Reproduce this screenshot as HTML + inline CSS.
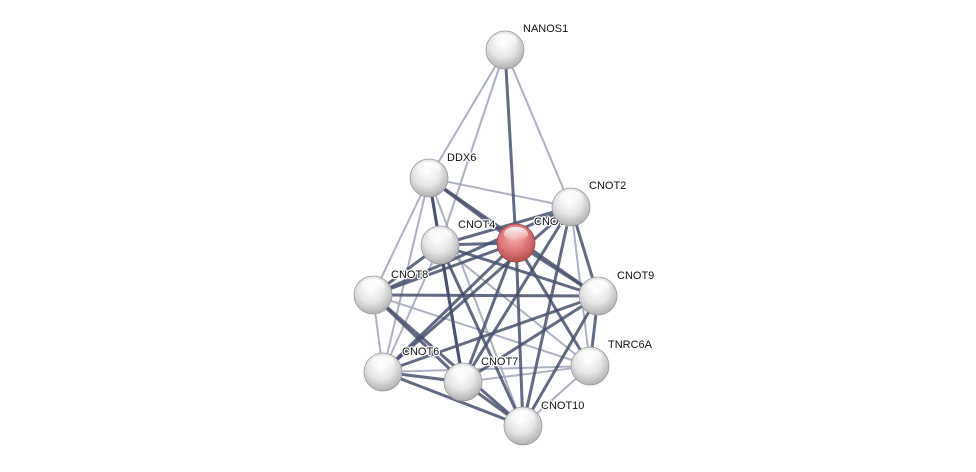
<!DOCTYPE html>
<html><head><meta charset="utf-8"><style>
html,body{margin:0;padding:0;background:#fff;}
svg{display:block;}
text{font-family:"Liberation Sans",sans-serif;font-size:11px;fill:#111;stroke:#fff;stroke-width:2.5px;paint-order:stroke;stroke-linejoin:round;}
</style></head><body>
<svg width="976" height="472" viewBox="0 0 976 472" xmlns="http://www.w3.org/2000/svg">
<defs>
<radialGradient id="g" cx="0.45" cy="0.35" r="0.7">
<stop offset="0" stop-color="#ffffff"/><stop offset="0.5" stop-color="#e6e6e6"/><stop offset="1" stop-color="#a8a8a8"/>
</radialGradient>
<radialGradient id="r" cx="0.45" cy="0.35" r="0.7">
<stop offset="0" stop-color="#f4b0b0"/><stop offset="0.5" stop-color="#e07a7a"/><stop offset="1" stop-color="#b04848"/>
</radialGradient>
<linearGradient id="hl" x1="0" y1="0" x2="0" y2="1">
<stop offset="0" stop-color="#fff" stop-opacity="0.95"/><stop offset="1" stop-color="#fff" stop-opacity="0"/>
</linearGradient>
<g id="node"><circle r="19" fill="url(#g)" stroke="#9a9a9a" stroke-width="0.8"/><ellipse cx="0" cy="-9" rx="12" ry="7" fill="url(#hl)"/></g>
<g id="rnode"><circle r="19" fill="url(#r)" stroke="#a04040" stroke-width="0.8"/><ellipse cx="0" cy="-9" rx="12" ry="7" fill="url(#hl)"/></g>
</defs>
<g stroke="#a3a8bb" stroke-width="2" stroke-opacity="0.9">
<line x1="505" y1="50" x2="429" y2="178"/>
<line x1="505" y1="50" x2="440" y2="245"/>
<line x1="505" y1="50" x2="571" y2="207"/>
<line x1="429" y1="178" x2="571" y2="207"/>
<line x1="429" y1="178" x2="373" y2="295"/>
<line x1="429" y1="178" x2="383" y2="372"/>
<line x1="373" y1="295" x2="383" y2="372"/>
<line x1="440" y1="245" x2="383" y2="372"/>
<line x1="373" y1="295" x2="590" y2="366"/>
<line x1="383" y1="372" x2="590" y2="366"/>
<line x1="463" y1="382" x2="590" y2="366"/>
<line x1="590" y1="366" x2="523" y2="426"/>
<line x1="571" y1="207" x2="590" y2="366"/>
<line x1="429" y1="178" x2="523" y2="426"/>
<line x1="440" y1="245" x2="590" y2="366"/>
</g>
<g stroke="#47506e" stroke-width="3" stroke-opacity="0.85">
<line x1="505" y1="50" x2="516" y2="243"/>
<line x1="429" y1="178" x2="440" y2="245"/>
<line x1="429" y1="178" x2="516" y2="243"/>
<line x1="429" y1="178" x2="598" y2="296"/>
<line x1="429" y1="178" x2="463" y2="382"/>
<line x1="440" y1="245" x2="516" y2="243"/>
<line x1="440" y1="245" x2="373" y2="295"/>
<line x1="440" y1="245" x2="598" y2="296"/>
<line x1="440" y1="245" x2="463" y2="382"/>
<line x1="440" y1="245" x2="523" y2="426"/>
<line x1="516" y1="243" x2="373" y2="295"/>
<line x1="516" y1="243" x2="598" y2="296"/>
<line x1="516" y1="243" x2="463" y2="382"/>
<line x1="516" y1="243" x2="383" y2="372"/>
<line x1="516" y1="243" x2="523" y2="426"/>
<line x1="516" y1="243" x2="590" y2="366"/>
<line x1="571" y1="207" x2="373" y2="295"/>
<line x1="571" y1="207" x2="440" y2="245"/>
<line x1="571" y1="207" x2="463" y2="382"/>
<line x1="571" y1="207" x2="523" y2="426"/>
<line x1="571" y1="207" x2="598" y2="296"/>
<line x1="571" y1="207" x2="383" y2="372"/>
<line x1="373" y1="295" x2="598" y2="296"/>
<line x1="373" y1="295" x2="463" y2="382"/>
<line x1="373" y1="295" x2="523" y2="426"/>
<line x1="383" y1="372" x2="463" y2="382"/>
<line x1="383" y1="372" x2="523" y2="426"/>
<line x1="463" y1="382" x2="523" y2="426"/>
<line x1="383" y1="372" x2="598" y2="296"/>
<line x1="463" y1="382" x2="598" y2="296"/>
<line x1="598" y1="296" x2="523" y2="426"/>
<line x1="598" y1="296" x2="590" y2="366"/>
</g>
<use href="#node" x="505" y="50"/>
<use href="#node" x="429" y="178"/>
<use href="#node" x="440" y="245"/>
<use href="#rnode" x="516" y="243"/>
<use href="#node" x="373" y="295"/>
<use href="#node" x="598" y="296"/>
<use href="#node" x="590" y="366"/>
<use href="#node" x="383" y="372"/>
<use href="#node" x="463" y="382"/>
<use href="#node" x="523" y="426"/>
<text x="523" y="32">NANOS1</text>
<text x="447" y="161">DDX6</text>
<text x="589" y="189">CNOT2</text>
<text x="458" y="228">CNOT4</text>
<text x="534" y="225">CNOT1</text>
<text x="391" y="278">CNOT8</text>
<text x="617" y="279">CNOT9</text>
<text x="608" y="348">TNRC6A</text>
<text x="402" y="355">CNOT6</text>
<text x="481" y="365">CNOT7</text>
<text x="541" y="409">CNOT10</text>
<use href="#node" x="571" y="207"/>
</svg>
</body></html>
